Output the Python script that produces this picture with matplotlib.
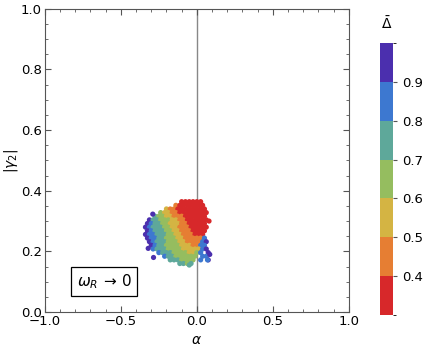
import matplotlib.pyplot as plt
import numpy as np
from matplotlib.colors import ListedColormap, BoundaryNorm
from matplotlib.ticker import MultipleLocator

# scatter cloud: (gamma, alphas, deltas)
row_gamma = [0.364, 0.352, 0.340, 0.328, 0.316, 0.304, 0.292, 0.280, 0.268,
             0.256, 0.244, 0.232, 0.220, 0.208, 0.196, 0.184, 0.172, 0.160]
row_alpha = [
    [-0.1, -0.075, -0.05, -0.025, 0.0, 0.025],
    [-0.138, -0.112, -0.088, -0.062, -0.038, -0.012, 0.012, 0.038],
    [-0.2, -0.175, -0.15, -0.125, -0.1, -0.075, -0.05, -0.025, 0.0, 0.025, 0.05],
    [-0.238, -0.212, -0.188, -0.162, -0.138, -0.112, -0.088, -0.062, -0.038, -0.012, 0.012, 0.038, 0.062],
    [-0.275, -0.25, -0.225, -0.2, -0.175, -0.15, -0.125, -0.1, -0.075, -0.05, -0.025, 0.0, 0.025, 0.05],
    [-0.312, -0.288, -0.262, -0.238, -0.212, -0.188, -0.162, -0.138, -0.112, -0.088, -0.062, -0.038, -0.012, 0.012, 0.038, 0.062],
    [-0.325, -0.3, -0.275, -0.25, -0.225, -0.2, -0.175, -0.15, -0.125, -0.1, -0.075, -0.05, -0.025, 0.0, 0.025, 0.05],
    [-0.338, -0.312, -0.288, -0.262, -0.238, -0.212, -0.188, -0.162, -0.138, -0.112, -0.088, -0.062, -0.038, -0.012, 0.012, 0.038, 0.062],
    [-0.325, -0.3, -0.275, -0.25, -0.225, -0.2, -0.175, -0.15, -0.125, -0.1, -0.075, -0.05, -0.025, 0.0, 0.025, 0.05],
    [-0.338, -0.312, -0.288, -0.262, -0.238, -0.212, -0.188, -0.162, -0.138, -0.112, -0.088, -0.062, -0.038, -0.012, 0.012, 0.038],
    [-0.325, -0.3, -0.275, -0.25, -0.225, -0.2, -0.175, -0.15, -0.125, -0.1, -0.075, -0.05, -0.025, 0.0, 0.025, 0.05],
    [-0.312, -0.288, -0.262, -0.238, -0.212, -0.188, -0.162, -0.138, -0.112, -0.088, -0.062, -0.038, -0.012, 0.012, 0.038, 0.062],
    [-0.3, -0.275, -0.25, -0.225, -0.2, -0.175, -0.15, -0.125, -0.1, -0.075, -0.05, -0.025, 0.0, 0.025, 0.05],
    [-0.288, -0.262, -0.238, -0.212, -0.188, -0.162, -0.138, -0.112, -0.088, -0.062, -0.038, -0.012, 0.012, 0.038, 0.062],
    [-0.25, -0.225, -0.2, -0.175, -0.15, -0.125, -0.1, -0.075, -0.05, -0.025, 0.0, 0.025, 0.075],
    [-0.212, -0.188, -0.162, -0.138, -0.112, -0.088, -0.062, -0.038, -0.012, 0.038, 0.062],
    [-0.175, -0.15, -0.125, -0.1, -0.075, -0.05, -0.025, 0.025, 0.075],
    [-0.112, -0.088, -0.062, -0.038],
]
row_delta = [
    [0.34, 0.33, 0.32, 0.32, 0.32, 0.33],
    [0.41, 0.36, 0.34, 0.33, 0.32, 0.32, 0.33, 0.34],
    [0.53, 0.48, 0.44, 0.39, 0.35, 0.33, 0.32, 0.32, 0.32, 0.33, 0.34],
    [0.62, 0.58, 0.54, 0.49, 0.44, 0.39, 0.36, 0.33, 0.32, 0.32, 0.32, 0.33, 0.34],
    [0.73, 0.67, 0.63, 0.59, 0.54, 0.49, 0.45, 0.40, 0.37, 0.34, 0.33, 0.32, 0.32, 0.33],
    [0.90, 0.77, 0.72, 0.68, 0.64, 0.60, 0.56, 0.51, 0.46, 0.41, 0.38, 0.36, 0.35, 0.34, 0.33, 0.33],
    [0.92, 0.80, 0.76, 0.72, 0.68, 0.64, 0.59, 0.54, 0.50, 0.45, 0.41, 0.38, 0.37, 0.36, 0.34, 0.33],
    [0.93, 0.84, 0.78, 0.74, 0.71, 0.67, 0.63, 0.58, 0.53, 0.48, 0.44, 0.40, 0.38, 0.37, 0.36, 0.35, 0.34],
    [0.92, 0.84, 0.78, 0.74, 0.70, 0.66, 0.62, 0.57, 0.52, 0.47, 0.43, 0.40, 0.38, 0.37, 0.36, 0.35],
    [0.93, 0.86, 0.80, 0.77, 0.74, 0.70, 0.66, 0.62, 0.57, 0.52, 0.47, 0.43, 0.41, 0.39, 0.38, 0.38],
    [0.92, 0.86, 0.80, 0.77, 0.73, 0.69, 0.66, 0.61, 0.57, 0.52, 0.48, 0.45, 0.43, 0.42, 0.41, 0.86],
    [0.91, 0.84, 0.79, 0.76, 0.73, 0.69, 0.66, 0.62, 0.57, 0.53, 0.49, 0.47, 0.45, 0.44, 0.86, 0.90],
    [0.90, 0.82, 0.78, 0.76, 0.69, 0.67, 0.64, 0.61, 0.58, 0.54, 0.51, 0.49, 0.48, 0.84, 0.88],
    [0.88, 0.79, 0.76, 0.72, 0.69, 0.67, 0.65, 0.62, 0.59, 0.56, 0.53, 0.52, 0.55, 0.86, 0.91],
    [0.86, 0.77, 0.73, 0.70, 0.68, 0.66, 0.63, 0.61, 0.59, 0.57, 0.60, 0.85, 0.92],
    [0.80, 0.74, 0.71, 0.69, 0.67, 0.65, 0.63, 0.62, 0.64, 0.88, 0.85],
    [0.78, 0.73, 0.70, 0.68, 0.67, 0.66, 0.68, 0.87, 0.91],
    [0.74, 0.70, 0.69, 0.72],
]

# a few stray points at the edges
stray_alpha = [-0.29, -0.285, 0.07, 0.085, -0.05, -0.32, 0.08]
stray_gamma = [0.323, 0.18, 0.172, 0.19, 0.155, 0.21, 0.30]
stray_delta = [0.92, 0.93, 0.88, 0.90, 0.70, 0.90, 0.34]

alpha = np.concatenate([np.array(a) for a in row_alpha] + [np.array(stray_alpha)])
gamma = np.concatenate([np.full(len(a), g) for g, a in zip(row_gamma, row_alpha)] + [np.array(stray_gamma)])
delta = np.concatenate([np.array(d) for d in row_delta] + [np.array(stray_delta)])

bounds = [0.3, 0.4, 0.5, 0.6, 0.7, 0.8, 0.9, 1.0]
colors = ['#d7282a', '#e67e33', '#d4b443', '#95bd5f', '#5ea89a', '#3d78d0', '#4b2fae']
cmap = ListedColormap(colors)
norm = BoundaryNorm(bounds, cmap.N)

fig = plt.figure(figsize=(4.27, 3.53), dpi=100)
ax = fig.add_axes([0.105, 0.116, 0.712, 0.859])

ax.axvline(0, color='#888888', lw=1, zorder=1)
ax.scatter(alpha, gamma, c=delta, cmap=cmap, norm=norm, s=14, linewidths=0, zorder=2)

ax.set_xlim(-1, 1)
ax.set_ylim(0, 1)
ax.xaxis.set_major_locator(MultipleLocator(0.5))
ax.xaxis.set_minor_locator(MultipleLocator(0.1))
ax.yaxis.set_major_locator(MultipleLocator(0.2))
ax.yaxis.set_minor_locator(MultipleLocator(0.05))
ax.tick_params(which='both', direction='in', top=True, right=True, colors='#555555',
               labelcolor='black', labelsize=9.5)
ax.tick_params(which='major', length=4, pad=2)
ax.tick_params(which='minor', length=2)
for sp in ax.spines.values():
    sp.set_color('#555555')

ax.set_xlabel(r'$\alpha$', fontsize=10, labelpad=4)
ax.set_ylabel(r'$|\gamma_2|$', fontsize=10, labelpad=1)

ax.text(-0.61, 0.10, r'$\omega_R\,\rightarrow\,0$', fontsize=11, ha='center', va='center',
        bbox=dict(boxstyle='square,pad=0.35', fc='white', ec='black', lw=0.9))

# colorbar
cax = fig.add_axes([0.890, 0.108, 0.030, 0.770])
sm = plt.cm.ScalarMappable(cmap=cmap, norm=norm)
cb = fig.colorbar(sm, cax=cax, ticks=[0.4, 0.5, 0.6, 0.7, 0.8, 0.9])
cb.outline.set_visible(False)
cb.ax.tick_params(labelsize=9.5, length=3, color='#555555')
cax.set_title(r'$\bar{\Delta}$', fontsize=10, pad=10)

fig.savefig('out.png', dpi=100)
